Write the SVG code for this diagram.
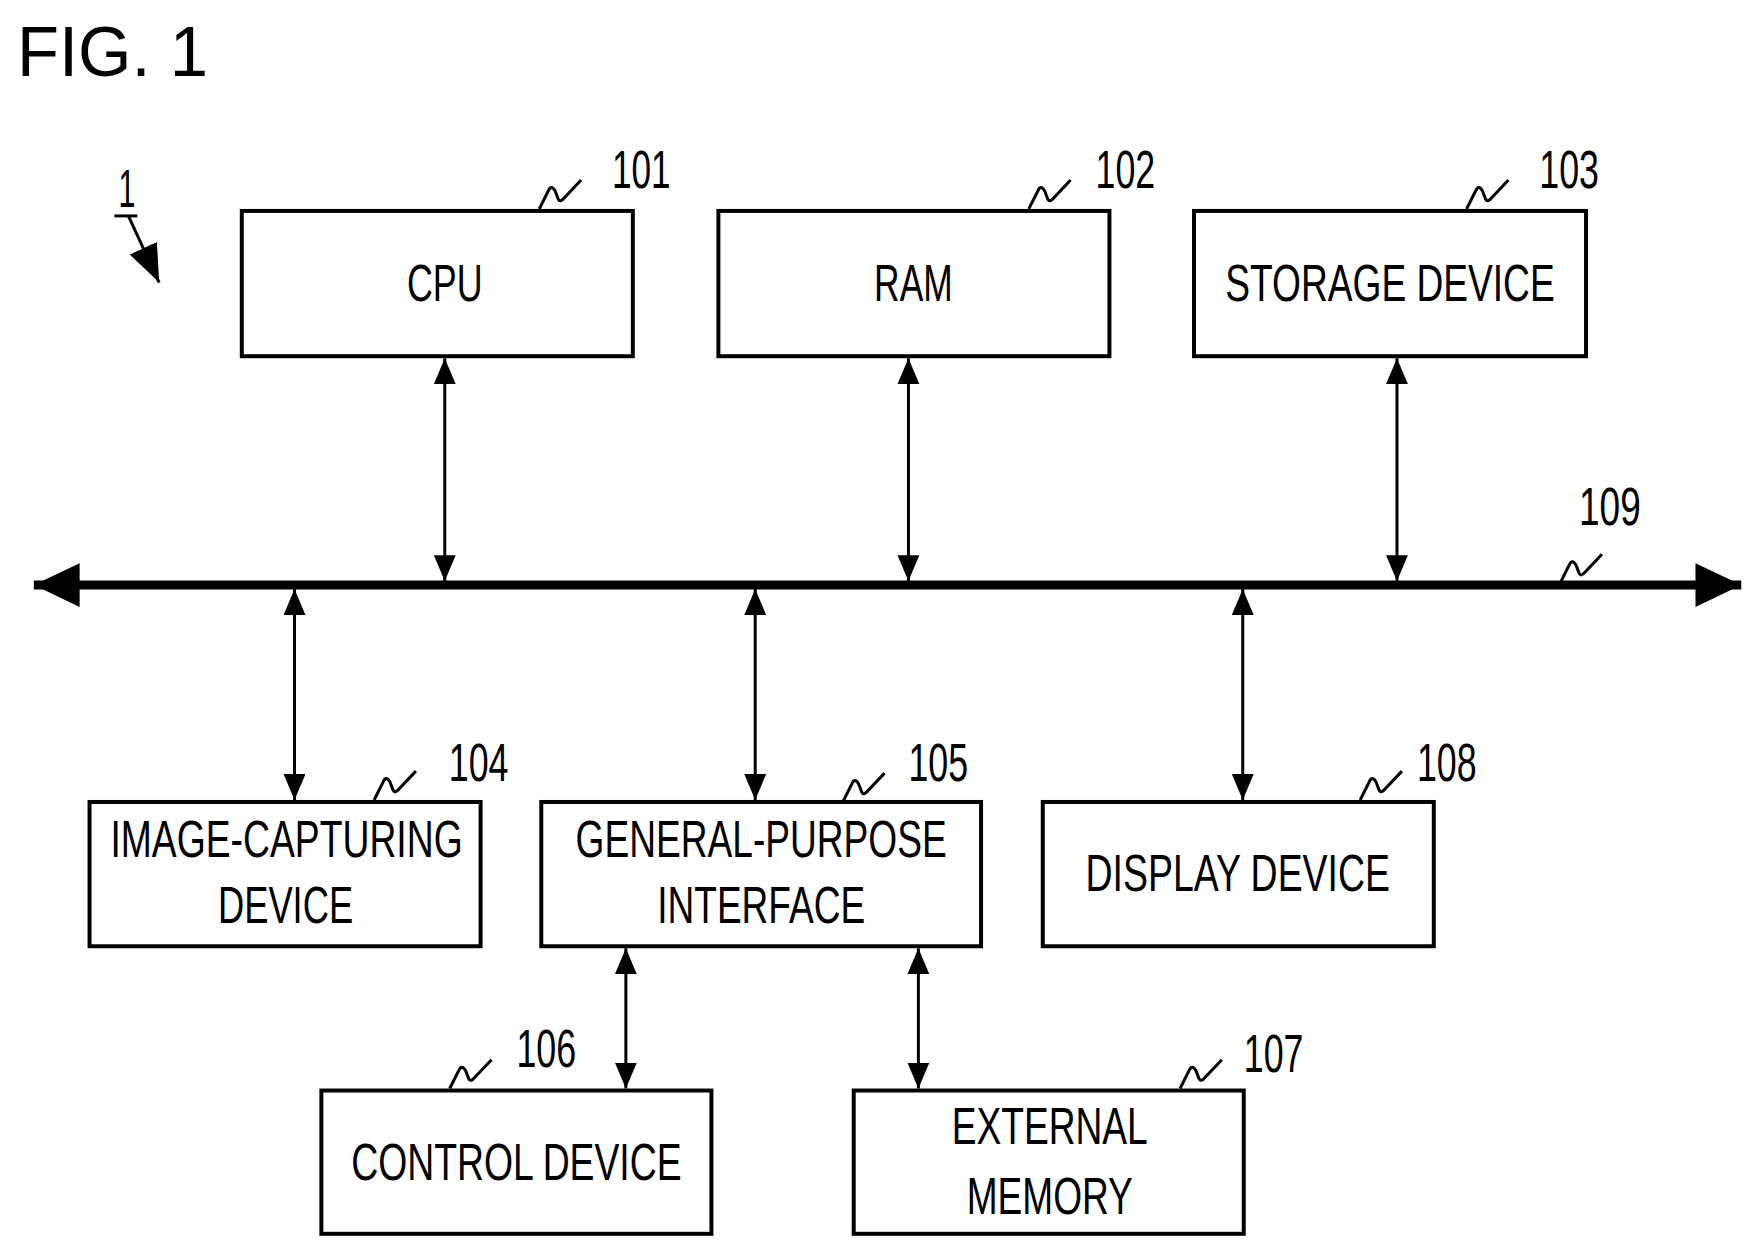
<svg xmlns="http://www.w3.org/2000/svg" width="1762" height="1258" viewBox="0 0 1762 1258">
<style>
.box{fill:#fff;stroke:#000;stroke-width:4}
.t{font-family:"Liberation Sans",Arial,sans-serif;font-size:52px;text-anchor:middle;fill:#000}
.n{font-family:"Liberation Sans",Arial,sans-serif;font-size:54px;fill:#000}
.c{stroke:#000;stroke-width:3;fill:none}
.sq{stroke:#000;stroke-width:3;fill:none}
</style>
<defs>
<marker id="a" markerUnits="userSpaceOnUse" markerWidth="28" markerHeight="24" refX="26" refY="11" orient="auto-start-reverse"><path d="M0,0 L26,11 L0,22 Z" fill="#000"/></marker>
<marker id="a2" markerUnits="userSpaceOnUse" markerWidth="40" markerHeight="32" refX="38" refY="15" orient="auto"><path d="M0,0 L38,15 L0,30 Z" fill="#000"/></marker>
<marker id="b" markerUnits="userSpaceOnUse" markerWidth="48" markerHeight="46" refX="46" refY="22" orient="auto-start-reverse"><path d="M0,0 L46,22 L0,44 Z" fill="#000"/></marker>
<path id="s" d="M0,0 L9,-18 Q12,-25 16,-18 L19,-10 Q21,-6 25,-11 L42,-29" class="sq"/>
</defs>
<g transform="scale(0.995)">
<text x="17" y="76" font-family="Liberation Sans,Arial,sans-serif" font-size="70" textLength="192" lengthAdjust="spacingAndGlyphs">FIG. 1</text>
<g id="ref1">
<text x="119" y="208" class="n" textLength="17" lengthAdjust="spacingAndGlyphs">1</text>
<line x1="115" y1="217" x2="138" y2="217" stroke="#000" stroke-width="3"/>
<line x1="129" y1="217" x2="160" y2="284" class="c" marker-end="url(#a2)"/>
</g>
<g id="connectors">
<line x1="34" y1="588" x2="1750" y2="588" stroke="#000" stroke-width="9" marker-start="url(#b)" marker-end="url(#b)"/>
<line x1="447" y1="360" x2="447" y2="584" class="c" marker-start="url(#a)" marker-end="url(#a)"/>
<line x1="913" y1="360" x2="913" y2="584" class="c" marker-start="url(#a)" marker-end="url(#a)"/>
<line x1="1404" y1="360" x2="1404" y2="584" class="c" marker-start="url(#a)" marker-end="url(#a)"/>
<line x1="296" y1="592" x2="296" y2="804" class="c" marker-start="url(#a)" marker-end="url(#a)"/>
<line x1="759" y1="592" x2="759" y2="804" class="c" marker-start="url(#a)" marker-end="url(#a)"/>
<line x1="1249" y1="592" x2="1249" y2="804" class="c" marker-start="url(#a)" marker-end="url(#a)"/>
<line x1="629" y1="953" x2="629" y2="1094" class="c" marker-start="url(#a)" marker-end="url(#a)"/>
<line x1="923" y1="953" x2="923" y2="1094" class="c" marker-start="url(#a)" marker-end="url(#a)"/>
<use href="#s" x="1568" y="586"/>
<text x="1587" y="528" class="n" textLength="62" lengthAdjust="spacingAndGlyphs">109</text>
</g>
<g id="n101"><rect class="box" x="243" y="212" width="393" height="146"/><text x="447" y="303" class="t" textLength="76" lengthAdjust="spacingAndGlyphs">CPU</text><use href="#s" x="542" y="210"/><text x="615" y="189" class="n" textLength="59" lengthAdjust="spacingAndGlyphs">101</text></g>
<g id="n102"><rect class="box" x="722" y="212" width="393" height="146"/><text x="918" y="303" class="t" textLength="79" lengthAdjust="spacingAndGlyphs">RAM</text><use href="#s" x="1034" y="210"/><text x="1101" y="189" class="n" textLength="60" lengthAdjust="spacingAndGlyphs">102</text></g>
<g id="n103"><rect class="box" x="1200" y="212" width="394" height="146"/><text x="1397" y="303" class="t" textLength="331" lengthAdjust="spacingAndGlyphs">STORAGE DEVICE</text><use href="#s" x="1474" y="210"/><text x="1547" y="189" class="n" textLength="60" lengthAdjust="spacingAndGlyphs">103</text></g>
<g id="n104"><rect class="box" x="90" y="806" width="393" height="145"/><text x="288" y="861" class="t" textLength="354" lengthAdjust="spacingAndGlyphs">IMAGE-CAPTURING</text><text x="287" y="928" class="t" textLength="136" lengthAdjust="spacingAndGlyphs">DEVICE</text><use href="#s" x="376" y="804"/><text x="451" y="785" class="n" textLength="60" lengthAdjust="spacingAndGlyphs">104</text></g>
<g id="n105"><rect class="box" x="544" y="806" width="442" height="145"/><text x="765" y="861" class="t" textLength="373" lengthAdjust="spacingAndGlyphs">GENERAL-PURPOSE</text><text x="765" y="928" class="t" textLength="209" lengthAdjust="spacingAndGlyphs">INTERFACE</text><use href="#s" x="847" y="806"/><text x="913" y="785" class="n" textLength="60" lengthAdjust="spacingAndGlyphs">105</text></g>
<g id="n108"><rect class="box" x="1048" y="806" width="393" height="145"/><text x="1244" y="895" class="t" textLength="306" lengthAdjust="spacingAndGlyphs">DISPLAY DEVICE</text><use href="#s" x="1367" y="804"/><text x="1424" y="785" class="n" textLength="60" lengthAdjust="spacingAndGlyphs">108</text></g>
<g id="n106"><rect class="box" x="323" y="1096" width="392" height="144"/><text x="519" y="1186" class="t" textLength="332" lengthAdjust="spacingAndGlyphs">CONTROL DEVICE</text><use href="#s" x="452" y="1094"/><text x="519" y="1072" class="n" textLength="60" lengthAdjust="spacingAndGlyphs">106</text></g>
<g id="n107"><rect class="box" x="858" y="1096" width="392" height="144"/><text x="1055" y="1150" class="t" textLength="197" lengthAdjust="spacingAndGlyphs">EXTERNAL</text><text x="1055" y="1220" class="t" textLength="167" lengthAdjust="spacingAndGlyphs">MEMORY</text><use href="#s" x="1186" y="1094"/><text x="1250" y="1077" class="n" textLength="60" lengthAdjust="spacingAndGlyphs">107</text></g>
</g>
</svg>
